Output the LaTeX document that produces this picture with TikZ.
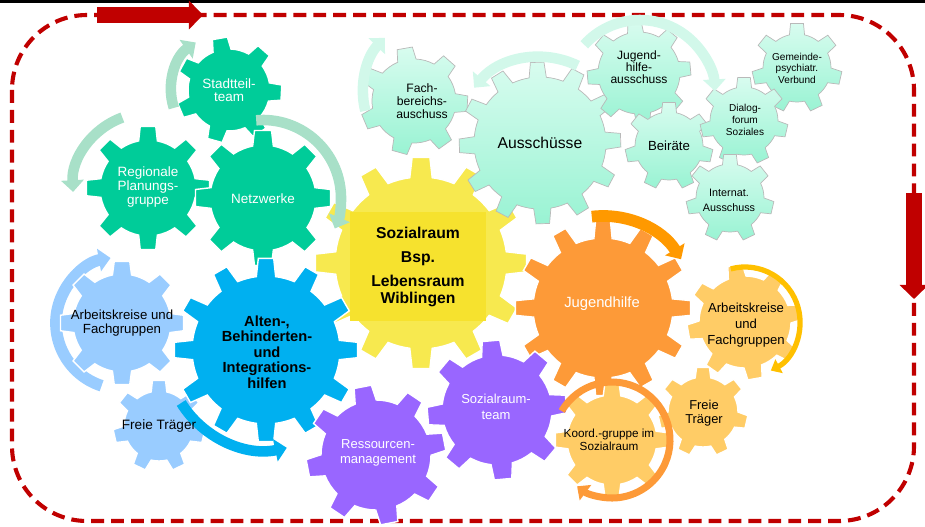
\documentclass[tikz,border=0pt]{standalone}
\usepackage{fontspec}
\setmainfont{Liberation Sans}
\usetikzlibrary{arrows.meta,calc}

\definecolor{framered}{HTML}{C00000}
\definecolor{netgreen}{HTML}{00CC99}
\definecolor{turngreen}{HTML}{A8E0C8}
\definecolor{mintlight}{HTML}{D8FCEF}
\definecolor{mintdark}{HTML}{99F3D3}
\definecolor{turnmint}{HTML}{D2F8EA}
\definecolor{sozyellow}{HTML}{F7E94F}
\definecolor{sozyellowdark}{HTML}{F6E22E}
\definecolor{altenblue}{HTML}{00B0F0}
\definecolor{akblue}{HTML}{99CCFF}
\definecolor{jugorange}{HTML}{FD9A38}
\definecolor{jugarrow}{HTML}{FF9900}
\definecolor{akorange}{HTML}{FFCC66}
\definecolor{akarrow}{HTML}{FFC000}
\definecolor{srpurple}{HTML}{9966FF}

\newcommand{\fsz}[2]{\fontsize{#1}{#2}\selectfont}
% cogwheel: centre, body radius, tip radius, teeth, rotation, style
\newcommand{\cogwheel}[6]{%
  \pgfmathsetmacro{\cogstep}{360/#4}%
  \path[#6, shift={(#1)}] ({#5-0.25*\cogstep}:#2)
    \foreach \k in {1,...,#4}{
      -- ({#5+(\k-1)*\cogstep-0.16*\cogstep}:#3)
      -- ({#5+(\k-1)*\cogstep+0.16*\cogstep}:#3)
      -- ({#5+(\k-1)*\cogstep+0.25*\cogstep}:#2)
      arc[start angle={#5+(\k-1)*\cogstep+0.25*\cogstep}, end angle={#5+\k*\cogstep-0.25*\cogstep}, radius=#2]
    } -- cycle;}

\tikzset{
  cogtext/.style={align=center, inner sep=0pt},
  flatcog/.style={fill=#1, draw=white, line width=1.2pt},
  mintcog/.style={top color=mintlight, bottom color=mintdark, draw=gray!55, line width=0.6pt},
  turn/.style={line width=9pt, -{Triangle[width=19pt,length=10pt]}},
  thinturn/.style={line width=#1, -{Triangle[width=13pt,length=8pt]}},
}

\begin{document}
\begin{tikzpicture}[x=0.03cm,y=0.03cm]
\useasboundingbox (0,0) rectangle (925,-526);

% centres
\coordinate (stadt) at (229,-90);
\coordinate (regio) at (148,-188);
\coordinate (netz) at (263,-198);
\coordinate (fach) at (414,-101);
\coordinate (aussch) at (540,-143);
\coordinate (jha) at (639,-73);
\coordinate (beir) at (669,-146);
\coordinate (dialog) at (744,-121);
\coordinate (gpv) at (797,-68);
\coordinate (intaus) at (730,-198);
\coordinate (sozr) at (421,-263);
\coordinate (alten) at (266,-350);
\coordinate (akl) at (122,-323);
\coordinate (ftl) at (159,-426);
\coordinate (jugh) at (603,-308);
\coordinate (akr) at (745,-322);
\coordinate (ftr) at (703,-412);
\coordinate (koord) at (612,-440);
\coordinate (ressm) at (376,-455);
\coordinate (srteam) at (497,-410);

% frame
\draw[line width=2pt] (0,-1.5) -- (925,-1.5);
\draw[framered, line width=3.5pt, dash pattern=on 11pt off 6pt, rounded corners=64pt] (12,-15) rectangle (914,-521);
\coordinate (topfrom) at (97,-15);
\coordinate (topto) at (203,-15);
\coordinate (rightfrom) at (914,-193);
\coordinate (rightto) at (914,-299);
\draw[framered, line width=13pt, -{Triangle[width=24pt,length=12pt]}] (topfrom) -- (topto);
\draw[framered, line width=13pt, -{Triangle[width=24pt,length=12pt]}] (rightfrom) -- (rightto);

% centre gear
\cogwheel{sozr}{86}{106}{12}{90}{flatcog=sozyellow}
\fill[sozyellowdark] (350,-212) rectangle (486,-321);

% teal gears
\cogwheel{stadt}{41}{53}{7}{100}{flatcog=netgreen}
\cogwheel{regio}{48}{62}{8}{90}{flatcog=netgreen}
\cogwheel{netz}{53}{68}{8}{90}{flatcog=netgreen}
\draw[turn, turngreen] ($(stadt)+(198:58)$) arc[start angle=198, end angle=125, radius=58];
\draw[turn, turngreen] ($(regio)+(110:75)$) arc[start angle=110, end angle=183, radius=75];
\draw[turn, turngreen] ($(netz)+(95:78)$) arc[start angle=95, end angle=-23, radius=78];

% committees
\cogwheel{fach}{42}{54}{7}{100}{mintcog}
\cogwheel{aussch}{66}{81}{12}{92}{mintcog}
\cogwheel{jha}{41}{52}{8}{95}{mintcog}
\cogwheel{beir}{34}{44}{7}{90}{mintcog}
\cogwheel{gpv}{34}{45}{7}{90}{mintcog}
\cogwheel{dialog}{34}{44}{7}{90}{mintcog}
\cogwheel{intaus}{34}{44}{7}{90}{mintcog}
\draw[turn, turnmint] ($(fach)+(27,9)+(194:78)$) arc[start angle=194, end angle=136, radius=78];
\draw[turn, turnmint] ($(aussch)+(64:86)$) arc[start angle=64, end angle=140, radius=86];
\draw[turn, turnmint] ($(jha)+(1,-22)+(138:75)$) arc[start angle=138, end angle=3, radius=75];

% left side
\draw[turn, akblue, line width=10pt] ($(akl)+(252:66)$) arc[start angle=252, end angle=100, radius=66];
\cogwheel{akl}{49}{62}{8}{90}{flatcog=akblue}
\cogwheel{ftl}{35}{46}{7}{90}{flatcog=akblue}
\cogwheel{alten}{74}{92}{12}{90}{flatcog=altenblue}
\draw[turn, altenblue] ($(alten)+(212:100)$) arc[start angle=212, end angle=282, radius=100];

% youth welfare
\cogwheel{jugh}{70}{88}{12}{90}{flatcog=jugorange}
\draw[turn, jugarrow, line width=10pt] ($(jugh)+(97:92)$) arc[start angle=97, end angle=32, radius=92];
\cogwheel{akr}{46}{58}{8}{100}{flatcog=akorange}
\draw[thinturn=4.5pt, akarrow] ($(akr)+(105:55)$) arc[start angle=105, end angle=-62, radius=55];
\cogwheel{ftr}{35}{45}{7}{90}{flatcog=akorange}

% purple gears
\cogwheel{ressm}{55}{70}{8}{101}{flatcog=srpurple}
\cogwheel{srteam}{55}{70}{8}{95}{flatcog=srpurple}
\cogwheel{koord}{45}{57}{8}{90}{flatcog=akorange}
\draw[thinturn=6pt, jugorange, -{Triangle[width=16pt,length=9pt]}] ($(koord)+(150:58)$) arc[start angle=150, end angle=-127, radius=58];

% labels
\node[cogtext, text=white, font=\fsz{11.5}{11.5}] (t-stadt) at (229,-90) {Stadtteil-\\team};
\node[cogtext, text=white, font=\fsz{11.5}{12}] (t-regio) at (148,-187) {Regionale\\Planungs-\\gruppe};
\node[cogtext, text=white, font=\fsz{11.5}{12}] (t-netz) at (263,-199) {Netzwerke};
\node[cogtext, font=\fsz{10.4}{11.2}] (t-fach) at (422,-101) {Fach-\\bereichs-\\auschuss};
\node[cogtext, font=\fsz{13.4}{14}] (t-aussch) at (540,-143) {Ausschüsse};
\node[cogtext, font=\fsz{10.3}{10.3}] (t-jha) at (639,-67) {Jugend-\\hilfe-\\ausschuss};
\node[cogtext, font=\fsz{11.3}{12}] (t-beir) at (669,-146) {Beiräte};
\node[cogtext, font=\fsz{8.6}{10}] (t-dialog) at (745,-120) {Dialog-\\forum\\Soziales};
\node[cogtext, font=\fsz{8.6}{9.8}] (t-gpv) at (797,-68) {Gemeinde-\\psychiatr.\\Verbund};
\node[cogtext, font=\fsz{9.2}{12.8}] (t-intaus) at (729,-200) {Internat.\\Ausschuss};
\node[cogtext, font=\fsz{13.4}{20.5}\bfseries] (t-sozr) at (418,-267) {Sozialraum\\Bsp.\\Lebensraum\\[-6.5pt]Wiblingen};
\node[cogtext, font=\fsz{12.5}{13.2}\bfseries] (t-alten) at (267,-352) {Alten-,\\Behinderten-\\und\\Integrations-\\hilfen};
\node[cogtext, font=\fsz{11.3}{12}] (t-akl) at (122,-323) {Arbeitskreise und\\Fachgruppen};
\node[cogtext, font=\fsz{11.6}{12}] (t-ftl) at (159,-426) {Freie Träger};
\node[cogtext, text=white, font=\fsz{12.6}{13}] (t-jugh) at (602,-304) {Jugendhilfe};
\node[cogtext, font=\fsz{11.2}{13.7}] (t-akr) at (746,-325) {Arbeitskreise\\und\\Fachgruppen};
\node[cogtext, font=\fsz{11}{12}] (t-ftr) at (704,-413) {Freie\\Träger};
\node[cogtext, font=\fsz{10}{10.8}] (t-koord) at (609,-440) {Koord.-gruppe im\\Sozialraum};
\node[cogtext, text=white, font=\fsz{11.1}{12.8}] (t-ressm) at (378,-453) {Ressourcen-\\management};
\node[cogtext, text=white, font=\fsz{11.1}{14}] (t-srteam) at (496,-407) {Sozialraum-\\team};
\end{tikzpicture}
\end{document}
